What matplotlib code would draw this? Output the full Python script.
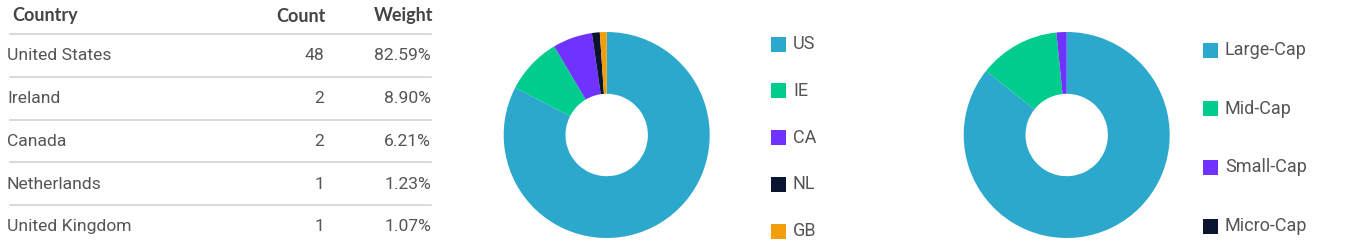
import matplotlib
matplotlib.use("Agg")
import matplotlib.pyplot as plt
from matplotlib.patches import Rectangle

# table data
countries = ["United States", "Ireland", "Canada", "Netherlands", "United Kingdom"]
counts = [48, 2, 2, 1, 1]
weights = [82.59, 8.90, 6.21, 1.23, 1.07]

# country pie
country_codes = ["US", "IE", "CA", "NL", "GB"]
country_colors = ["#2ba8cb", "#00cc8e", "#7033ff", "#0b1430", "#f29e0c"]

# market cap pie
cap_labels = ["Large-Cap", "Mid-Cap", "Small-Cap", "Micro-Cap"]
cap_weights = [85.7, 12.7, 1.6, 0.0]
cap_colors = ["#2ba8cb", "#00cc8e", "#7033ff", "#0b1430"]

W, H = 1347, 246
TEXT = "#555555"
BODY_FONT = ["Roboto", "DejaVu Sans"]
HEAD_FONT = ["Lato", "DejaVu Sans"]

fig = plt.figure(figsize=(W / 100, H / 100), dpi=100)

# overlay axes in pixel coords for table + legends
ov = fig.add_axes([0, 0, 1, 1])
ov.set_xlim(0, W)
ov.set_ylim(H, 0)
ov.axis("off")

# table
for x, lab, ha in [(12, "Country", "left"), (326, "Count", "right"), (433, "Weight", "right")]:
    ov.text(x, 16, lab, fontsize=13, fontweight="bold", color="#444444",
            family=HEAD_FONT, va="center", ha=ha)
ov.plot([10, 431], [34, 34], color="#cfcfcf", lw=1.1)

row_h = 42.7
for i, (c, n, w) in enumerate(zip(countries, counts, weights)):
    y = 56 + i * row_h
    ov.text(7, y, c, fontsize=12.6, color=TEXT, family=BODY_FONT, va="center", ha="left")
    ov.text(324, y, str(n), fontsize=12.6, color=TEXT, family=BODY_FONT, va="center", ha="right")
    ov.text(431, y, f"{w:.2f}%", fontsize=12.6, color=TEXT, family=BODY_FONT, va="center", ha="right")
    if i < len(countries) - 1:
        ov.plot([10, 431], [y + 21, y + 21], color="#cfcfcf", lw=1.1)


def donut(cx, cy, r, values, colors):
    ax = fig.add_axes([(cx - r) / W, (H - cy - r) / H, 2 * r / W, 2 * r / H])
    ax.pie(values, colors=colors, startangle=90, counterclock=False,
           wedgeprops=dict(width=0.6, edgecolor="none"))
    ax.set_xlim(-1, 1)
    ax.set_ylim(-1, 1)
    ax.set_aspect("equal")
    ax.axis("off")
    return ax


donut(606.7, 135, 103, weights, country_colors)
donut(1066.7, 135, 103, cap_weights, cap_colors)

# legends
for i, (lab, col) in enumerate(zip(country_codes, country_colors)):
    y = 44 + i * 46.8
    ov.add_patch(Rectangle((771, y - 7.5), 15, 15, color=col, lw=0))
    ov.text(793, y, lab, fontsize=13, color=TEXT, family=BODY_FONT, va="center", ha="left")

for i, (lab, col) in enumerate(zip(cap_labels, cap_colors)):
    y = 50 + i * 58.7
    ov.add_patch(Rectangle((1203, y - 7.5), 15, 15, color=col, lw=0))
    ov.text(1225, y, lab, fontsize=13, color=TEXT, family=BODY_FONT, va="center", ha="left")

fig.savefig("out.png", dpi=100)
